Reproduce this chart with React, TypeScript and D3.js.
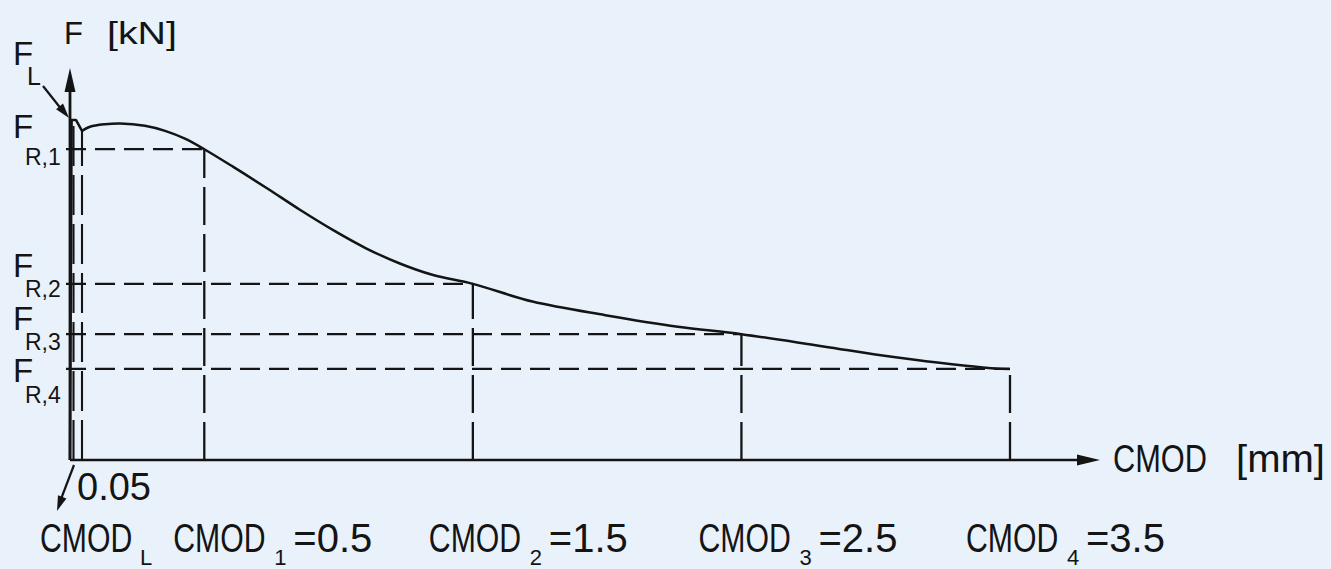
import React from "react";
import * as d3 from "d3";

// ---- data ----
const elasticCmod = [0, 0.006, 0.022, 0.0447];
const elasticForce = [0, 5.0, 5.0, 4.84];
const curveCmod = [0.0447, 0.0745, 0.13, 0.186, 0.279, 0.354, 0.428, 0.5, 0.608, 0.732, 0.856, 0.98, 1.104, 1.228, 1.352, 1.5, 1.722, 1.993, 2.263, 2.5, 2.805, 3.074, 3.43, 3.5];
const curveForce = [4.84, 4.9, 4.937, 4.949, 4.915, 4.84, 4.725, 4.57, 4.31, 4.0, 3.68, 3.38, 3.11, 2.89, 2.72, 2.59, 2.33, 2.13, 1.96, 1.85, 1.67, 1.51, 1.35, 1.34];
const limitGuideCmod = [0.013, 0.0447];
const limitGuideForce = [5.0, 4.84];
const cmodLimitText = "0.05";
const residualCmod = [0.5, 1.5, 2.5, 3.5];
const residualForce = [4.57, 2.59, 1.85, 1.34];
const residualIndex = ["1", "2", "3", "4"];
const residualValueText = ["=0.5", "=1.5", "=2.5", "=3.5"];
const yAxisLabel = "F";
const yAxisUnit = "[kN]";
const xAxisLabel = "CMOD";
const xAxisUnit = "[mm]";

// ---- layout ----
const W = 1331;
const H = 569;
const BG = "#e9f2fb";
const INK = "#141414";
const FONT = "'Liberation Sans', Arial, sans-serif";
const x = d3.scaleLinear().domain([0, 3.5]).range([70, 1010]);
const y = d3.scaleLinear().domain([0, 5.735]).range([460, 70]);
const frLabelDy = [-11, -7, -4, 13];
const frSubDy = [27, 20, 20, 21];
const cmodLabelDx = [-31, -44, -43, -44];
const NARROWING = 0.755;

function arrowHead(tx: number, ty: number, fx: number, fy: number, len: number, half: number) {
  const dx = tx - fx, dy = ty - fy;
  const l = Math.hypot(dx, dy);
  const ux = dx / l, uy = dy / l;
  const bx = tx - ux * len, by = ty - uy * len;
  const px = -uy * half, py = ux * half;
  return `M${tx},${ty}L${bx + px},${by + py}L${bx - px},${by - py}Z`;
}

function Narrow({ x0, y0, size, k, children }: { x0: number; y0: number; size: number; k: number; children: string }) {
  return (
    <text transform={`translate(${x0},${y0}) scale(${k},1)`} x={0} y={0} fontSize={size} fill={INK}>
      {children}
    </text>
  );
}

export default function App() {
  const elastic = d3.line<number>().x((_, i) => x(elasticCmod[i])).y((d) => y(d)).curve(d3.curveLinear)(elasticForce) || "";
  const soft = d3.line<number>().x((_, i) => x(curveCmod[i])).y((d) => y(d)).curve(d3.curveCatmullRom.alpha(0.5))(curveForce) || "";
  const x0 = x(0), y0 = y(0);
  const xEnd = 1100, yTop = 68;

  return (
    <svg width={W} height={H} style={{ position: "absolute", left: 0, top: 0, display: "block" }} fontFamily={FONT}>
      <rect x={0} y={0} width={W} height={H} fill={BG} />

      {/* horizontal dashed guides */}
      {residualForce.map((f, i) => (
        <line key={"h" + i} x1={x0 - 4} x2={x(residualCmod[i])} y1={y(f)} y2={y(f)} stroke={INK} strokeWidth={2.3} strokeDasharray="20,9" />
      ))}
      {/* vertical dashed guides */}
      {residualForce.map((f, i) => (
        <line key={"v" + i} x1={x(residualCmod[i])} x2={x(residualCmod[i])} y1={y0} y2={y(f)} stroke={INK} strokeWidth={2.3} strokeDasharray="38,9" />
      ))}
      {limitGuideCmod.map((c, i) => (
        <line key={"l" + i} x1={x(c)} x2={x(c)} y1={y0} y2={y(limitGuideForce[i])} stroke={INK} strokeWidth={2.1} strokeDasharray="40,9" />
      ))}

      {/* curve */}
      <path d={elastic} fill="none" stroke={INK} strokeWidth={2.5} strokeLinejoin="round" />
      <path d={soft} fill="none" stroke={INK} strokeWidth={2.5} />

      {/* axes */}
      <line x1={x0} x2={xEnd - 18} y1={y0} y2={y0} stroke={INK} strokeWidth={2.6} />
      <line x1={x0} x2={x0} y1={y0} y2={yTop + 18} stroke={INK} strokeWidth={2.8} />
      <path d={arrowHead(xEnd, y0, x0, y0, 23, 5.5)} fill={INK} />
      <path d={arrowHead(x0, yTop, x0, y0, 24, 5.5)} fill={INK} />

      {/* F_L leader */}
      <line x1={43} y1={86} x2={62} y2={110} stroke={INK} strokeWidth={2.2} />
      <path d={arrowHead(69, 118, 43, 86, 15, 4.5)} fill={INK} />
      {/* 0.05 leader */}
      <line x1={74} y1={465} x2={61} y2={499} stroke={INK} strokeWidth={2.2} />
      <path d={arrowHead(57, 511, 74, 465, 15, 4.5)} fill={INK} />

      {/* axis titles */}
      <text x={64} y={44} fontSize={31} fill={INK}>{yAxisLabel}</text>
      <text x={107} y={44} fontSize={31} fill={INK} textLength={70} lengthAdjust="spacingAndGlyphs">{yAxisUnit}</text>
      <Narrow x0={1113} y0={472} size={38} k={0.81}>{xAxisLabel}</Narrow>
      <text x={1236} y={472} fontSize={38} fill={INK} textLength={89} lengthAdjust="spacingAndGlyphs">{xAxisUnit}</text>

      {/* F labels */}
      <text x={13} y={65} fontSize={33} fill={INK}>F</text>
      <text x={27} y={85} fontSize={25} fill={INK}>L</text>
      {residualForce.map((f, i) => (
        <g key={"fl" + i}>
          <text x={13} y={y(f) + frLabelDy[i]} fontSize={33} fill={INK}>F</text>
          <text x={25} y={y(f) + frLabelDy[i] + frSubDy[i]} fontSize={23} fill={INK}>{"R," + residualIndex[i]}</text>
        </g>
      ))}

      {/* CMOD labels */}
      <text x={77} y={500} fontSize={38} fill={INK}>{cmodLimitText}</text>
      <Narrow x0={40} y0={552} size={40} k={NARROWING}>CMOD</Narrow>
      <text x={140} y={565} fontSize={22} fill={INK}>L</text>
      {residualCmod.map((c, i) => {
        const sx = x(c) + cmodLabelDx[i];
        return (
          <g key={"cl" + i}>
            <Narrow x0={sx} y0={552} size={40} k={NARROWING}>CMOD</Narrow>
            <text x={sx + 101} y={565} fontSize={22} fill={INK}>{residualIndex[i]}</text>
            <text x={sx + 120} y={552} fontSize={40} fill={INK}>{residualValueText[i]}</text>
          </g>
        );
      })}
    </svg>
  );
}
